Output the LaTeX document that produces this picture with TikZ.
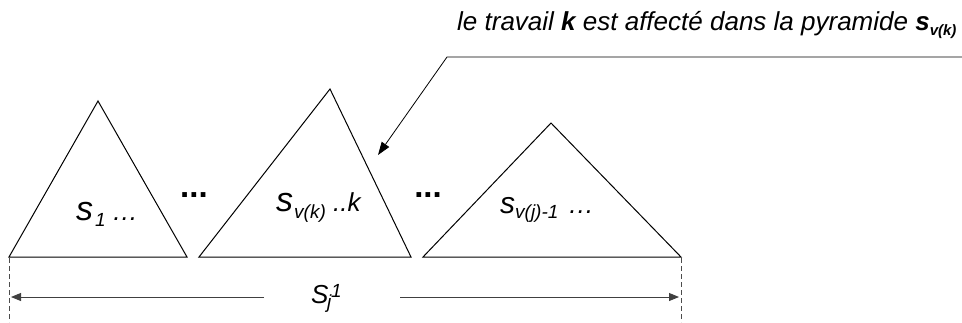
\documentclass[tikz,border=0pt]{standalone}
\usepackage{fontspec}
\setmainfont{Liberation Sans}
\usetikzlibrary{arrows.meta}
\tikzset{
  tri/.style={draw=black, line width=1pt, line join=miter},
  txt/.style={inner sep=0pt, anchor=base west},
  big/.style={txt, font=\itshape\fontsize{34}{36}\selectfont},
  mid/.style={txt, font=\itshape\fontsize{26}{28}\selectfont},
  sub/.style={txt, font=\itshape\fontsize{19}{21}\selectfont},
  dots/.style={inner sep=0pt, anchor=base, font=\bfseries\fontsize{33}{35}\selectfont},
  dim/.style={draw=black!75, line width=0.9pt, -{Triangle[length=10pt,width=8pt]}},
  guide/.style={draw=black!70, line width=0.8pt, dash pattern=on 5pt off 3pt},
  pointer/.style={draw=black, line width=0.8pt, -{Triangle[length=13pt,width=9pt]}},
}
\begin{document}
\begin{tikzpicture}[x=1pt,y=-1pt]
\useasboundingbox (0,0) rectangle (962,322);
% triangle 1
\coordinate (a1) at (9,257);
\coordinate (b1) at (187,257);
\coordinate (c1) at (98,101);
\draw[tri] (a1) -- (b1) -- (c1) -- cycle;
% triangle 2
\coordinate (a2) at (199,257);
\coordinate (b2) at (411,257);
\coordinate (c2) at (330,89);
\draw[tri] (a2) -- (b2) -- (c2) -- cycle;
% triangle 3
\coordinate (a3) at (423,257);
\coordinate (b3) at (681,257);
\coordinate (c3) at (551,123);
\draw[tri] (a3) -- (b3) -- (c3) -- cycle;
% label 1
\node[big] (s1) at (76,220) {s};
\node[sub] (s1i) at (95,226) {1};
\node[mid] (s1d) at (112,220) {…};
% label 2
\node[big] (s2) at (276,211) {s};
\node[sub] (s2i) at (294,218) {v(k)};
\node[mid] (s2d) at (333,211) {..k};
% label 3
\node[big, font=\itshape\fontsize{30}{32}\selectfont] (s3) at (500,213) {s};
\node[sub] (s3i) at (515,218) {v(j)-1};
\node[mid] (s3d) at (568,213) {…};
% dots between triangles
\node[dots] (d1) at (194,197) {...};
\node[dots] (d2) at (428,197) {...};
% dimension
\coordinate (g1t) at (9,258);
\coordinate (g1b) at (9,322);
\coordinate (g2t) at (681,258);
\coordinate (g2b) at (681,322);
\draw[guide] (g1t) -- (g1b);
\draw[guide] (g2t) -- (g2b);
\node[txt, font=\itshape\fontsize{26}{28}\selectfont] (S) at (311,303) {S};
\node[sub] (Sj) at (327,308) {j};
\node[sub] (S1) at (331,297) {1};
\coordinate (dl) at (11,297);
\coordinate (dr) at (679,297);
\coordinate (dlm) at (264,297);
\coordinate (drm) at (400,297);
\draw[dim] (dlm) -- (dl);
\draw[dim] (drm) -- (dr);
% annotation
\node[inner sep=0pt, anchor=base west, font=\itshape\fontsize{26}{28}\selectfont] (note) at (457,30) {le travail \textbf{k} est affecté dans la pyramide \textbf{s}{\fontsize{15}{15}\selectfont\raisebox{-5pt}{\textbf{v(k)}}}};
\coordinate (n1) at (962,57);
\coordinate (n2) at (447,57);
\coordinate (n3) at (378,155);
\draw[pointer] (n1) -- (n2) -- (n3);
\end{tikzpicture}
\end{document}
